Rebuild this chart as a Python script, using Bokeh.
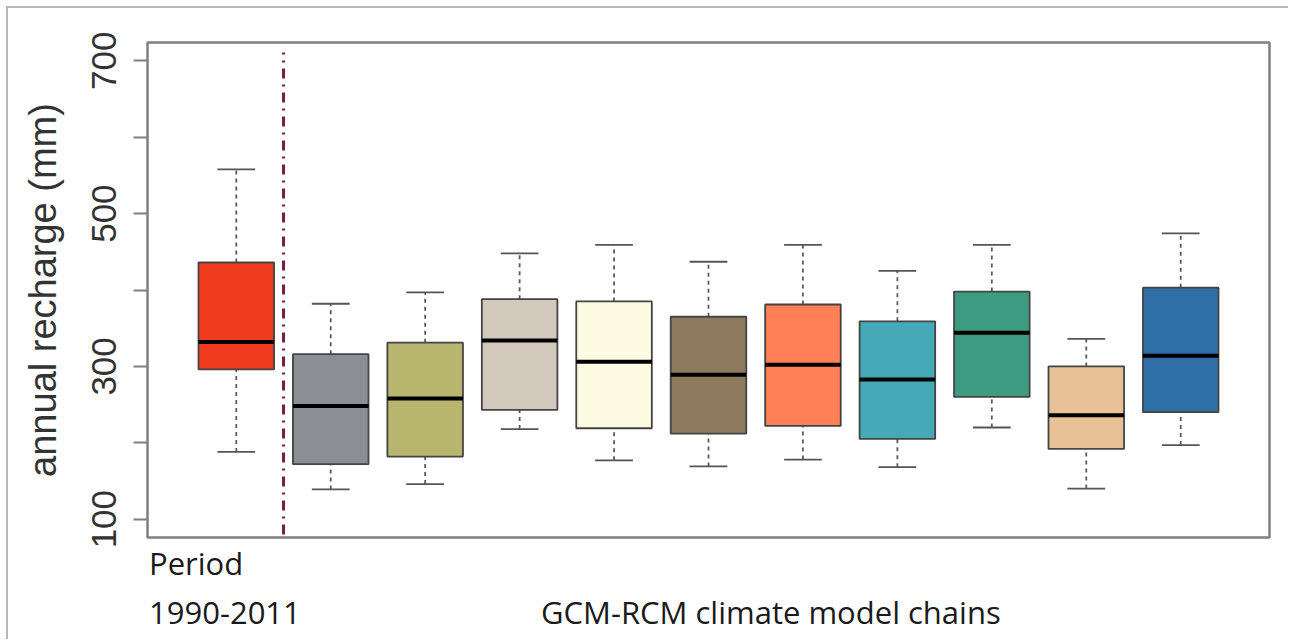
from bokeh.plotting import figure
from bokeh.models import ColumnDataSource, Range1d, FixedTicker, LinearAxis
from bokeh.embed import file_html
from bokeh.resources import INLINE

# ---- data ----
groups = ["Period 1990-2011", "Chain 1", "Chain 2", "Chain 3", "Chain 4", "Chain 5",
          "Chain 6", "Chain 7", "Chain 8", "Chain 9", "Chain 10"]
whisker_low = [188, 139, 146, 218, 177, 169, 178, 168, 220, 140, 197]
q1 = [296, 172, 182, 243, 219, 212, 222, 205, 260, 192, 240]
median = [332, 248, 258, 334, 306, 289, 302, 283, 344, 236, 314]
q3 = [436, 316, 331, 388, 385, 365, 381, 359, 398, 300, 403]
whisker_high = [558, 382, 397, 448, 459, 437, 459, 425, 459, 336, 474]
colors = ["#F13B1E", "#8C8E96", "#B8B56E", "#D2C8BC", "#FDFCE2", "#8E7B5E",
          "#FF7F56", "#45A9B8", "#3C9B80", "#E6C296", "#2F6EA6"]
y_ticks = [100, 200, 300, 400, 500, 600, 700]
y_tick_labels = {100: "100", 200: "", 300: "300", 400: "", 500: "500", 600: "", 700: "700"}
bottom_line1 = {0.575: "Period"}
bottom_line2 = {0.88: "1990-2011", 6.66: "GCM-RCM climate model chains"}

positions = [i + 1 for i in range(len(groups))]
box_w = 0.8
cap_w = 0.4

src = ColumnDataSource(dict(
    x=positions,
    lo=whisker_low, q1=q1, med=median, q3=q3, hi=whisker_high, color=colors,
    cap_l=[p - cap_w / 2 for p in positions], cap_r=[p + cap_w / 2 for p in positions],
    box_l=[p - box_w / 2 for p in positions], box_r=[p + box_w / 2 for p in positions],
))

p = figure(width=1282, height=633, output_backend="svg", toolbar_location=None,
           x_range=Range1d(0.06, 11.94), y_range=Range1d(76, 724),
           x_axis_location=None,
           min_border_left=139, min_border_right=21, min_border_top=34, min_border_bottom=104)
p.styles = {"margin-left": "6px", "margin-top": "6px",
            "border-top": "2px solid #b8b8b8", "border-left": "2px solid #b8b8b8"}

p.grid.visible = False
p.background_fill_color = "white"
p.border_fill_color = "white"
p.outline_line_color = "#7f7f7f"
p.outline_line_width = 2.5

# y axis
ax = p.yaxis[0]
ax.ticker = FixedTicker(ticks=y_ticks)
ax.major_label_overrides = {k: v for k, v in y_tick_labels.items()}
ax.minor_tick_line_color = None
ax.axis_line_color = None
ax.major_tick_in = 0
ax.major_tick_out = 14
ax.major_tick_line_color = "#7f7f7f"
ax.major_tick_line_width = 2
ax.major_label_orientation = "vertical"
ax.major_label_text_font = "Liberation Sans"
ax.major_label_text_font_size = "35px"
ax.major_label_text_color = "#333333"
ax.major_label_standoff = 17
ax.axis_label = "annual recharge (mm)"
ax.axis_label_text_font = "Liberation Sans"
ax.axis_label_text_font_size = "38px"
ax.axis_label_text_font_style = "normal"
ax.axis_label_text_color = "#333333"
ax.axis_label_standoff = 26

# bottom text lines drawn as tick-less axes
for lines, standoff in [(bottom_line1, 4), (bottom_line2, 4)]:
    bx = LinearAxis(ticker=FixedTicker(ticks=list(lines.keys())),
                    major_label_overrides=dict(lines))
    bx.axis_line_color = None
    bx.major_tick_line_color = None
    bx.minor_tick_line_color = None
    bx.major_tick_out = 0
    bx.major_tick_in = 0
    bx.major_label_standoff = standoff
    bx.major_label_text_font = "Open Sans"
    bx.major_label_text_font_size = "31px"
    bx.major_label_text_color = "#1a1a1a"
    p.add_layout(bx, "below")

# whiskers (dashed)
p.segment(x0="x", y0="q3", x1="x", y1="hi", source=src, line_color="#5a5a5a",
          line_width=1.8, line_dash="4 4")
p.segment(x0="x", y0="lo", x1="x", y1="q1", source=src, line_color="#5a5a5a",
          line_width=1.8, line_dash="4 4")
# caps
p.segment(x0="cap_l", y0="hi", x1="cap_r", y1="hi", source=src, line_color="#555555", line_width=1.8)
p.segment(x0="cap_l", y0="lo", x1="cap_r", y1="lo", source=src, line_color="#555555", line_width=1.8)
# boxes
p.quad(left="box_l", right="box_r", bottom="q1", top="q3", source=src,
       fill_color="color", line_color="#444444", line_width=1.8)
# medians
p.segment(x0="box_l", y0="med", x1="box_r", y1="med", source=src, line_color="black", line_width=4)

# separator line between observed period and model chains
p.segment(x0=[1.5], y0=[80], x1=[1.5], y1=[711], line_color="#7a1f3d",
          line_width=3, line_dash="10 6 2 6")

open("out.html", "w").write(file_html(p, INLINE))
